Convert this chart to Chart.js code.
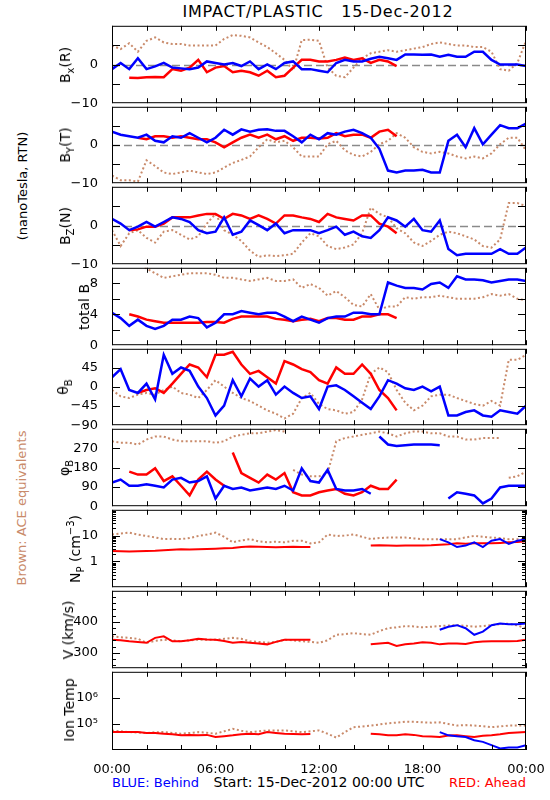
<!DOCTYPE html>
<html>
<head>
<meta charset="utf-8">
<script src="https://cdn.jsdelivr.net/npm/chart.js@4.4.0/dist/chart.umd.min.js"></script>
<style>
  body { margin: 0; background: #fff; width: 550px; height: 800px; position: relative; overflow: hidden;
         font-family: 'DejaVu Sans', sans-serif; }
  canvas { position: absolute; left: 0; }
  .txt { position: absolute; white-space: nowrap; color: #000; line-height: 1; }
  .rot { transform: translate(-50%, -50%) rotate(-90deg); }
  .sb { font-size: 10px; position: relative; top: 4px; }
  .sp { font-size: 10px; position: relative; top: -6px; }
</style>
</head>
<body>
<div class="txt" style="left:318px;top:12px;transform:translate(-50%,-50%);font-size:16px;letter-spacing:0.8px">IMPACT/PLASTIC&nbsp;&nbsp;&nbsp;15-Dec-2012</div>
<div class="txt rot" style="left:22px;top:186px;font-size:13px">(nanoTesla, RTN)</div>
<div class="txt rot" style="left:21px;top:508px;font-size:13px;color:#c98a6a">Brown: ACE equivalents</div>
<div class="txt" style="left:112px;top:782px;transform:translateY(-50%);font-size:13px;color:#0000ff">BLUE: Behind</div>
<div class="txt" style="left:319px;top:782px;transform:translate(-50%,-50%);font-size:14px">Start: 15-Dec-2012 00:00 UTC</div>
<div class="txt" style="right:24px;top:782px;transform:translateY(-50%);font-size:13px;color:#ff0000">RED: Ahead</div>
<script>
// Temps (heures depuis 00:00 UTC)
const hours = [0,0.5,1,1.5,2,2.5,3,3.5,4,4.5,5,5.5,6,6.5,7,7.5,8,8.5,9,9.5,10,10.5,11,11.5,12,
  12.5,13,13.5,14,14.5,15,15.5,16,16.5,17,17.5,18,18.5,19,19.5,20,20.5,21,21.5,22,22.5,23,23.5,24];
const xTickHours = [0,2,4,6,8,10,12,14,16,18,20,22,24];
const xLabelHours = [0,6,12,18,24];
const xLabelText = ['00:00','06:00','12:00','18:00','00:00'];

// Bx (R)
const bxBlue = [-1.2,0.4,-1.2,1.6,-1.2,-0.5,0.4,-0.8,-1,-1.2,-0.8,0.8,0.4,0,0.4,-0.4,0.8,-1.2,0,-1.2,
  0.4,0.8,-1.2,-1.2,-1.6,-2,0.4,1.2,0.8,0.8,1.5,2,1.6,1.2,2.6,2.6,2.5,2.6,2,2.5,2,2,3.3,3.3,1.2,0,0,0,-0.4];
const bxRed = [null,null,-3.4,-3.5,-3.3,-3.2,-3.3,-1.2,-1.6,-0.8,1.2,-2,-0.8,-0.4,-2,-1.6,-2,-2.9,-1.6,-3.3,
  -2.9,-0.8,1.2,1.2,0.8,0.8,1.2,1.8,1.2,1.6,0.4,1.2,0.8,-0.4,
  null,null,null,null,null,null,null,null,null,null,null,null,null,null,null];
const bxAce = [4.9,4,5.5,3.3,6.1,7,5.7,5.3,5.3,4.9,4.9,4.9,4.9,6.6,7.6,7.4,7,5.7,4.5,2.9,
  1.2,-1.6,6.3,6.4,6.1,-0.8,-2.9,-3.3,-0.8,1.6,2.9,3.3,3.7,3.3,3.7,4.1,4.5,5.3,5.7,5.3,
  4.9,4.9,4.5,4.5,3.3,-1.2,-1.6,0.4,6.1];

// By (T)
const byBlue = [3.5,2.7,2.3,1.9,2.7,1.1,0.7,2.3,1.9,3.1,1.9,0.7,1.9,4,2.7,4.1,3.5,4,4.1,3.7,
  3.7,2.3,0.7,2.7,1.5,3.1,2.7,3.5,4,3.1,1.9,-1,-6.7,-7.2,-6.7,-6.7,-6.5,-7.2,-7.2,1.1,
  2.7,-0.6,4.4,0.2,2.7,5.2,4.4,4.4,5.6];
const byRed = [null,null,null,1.9,1.5,2.3,2.3,1.9,2.3,1.9,1.5,1.5,0.7,-0.6,0.7,1.9,2.7,1.9,2.7,1.5,
  2.3,1.1,1.9,1.9,1.7,1.9,3.1,2.3,2.7,2.7,1.9,3.5,4,2.3,
  null,null,null,null,null,null,null,null,null,null,null,null,null,null,null];
const byAce = [-8,-9.2,-9.2,-9.6,-4,-5.5,-7.2,-7.6,-7.2,-6.7,-7.2,-7.6,-7.2,-5.9,-4.7,-3.9,-3,-0.6,1.5,0.7,
  1.1,-0.6,-3,-3,-3,0.2,1.1,-1.4,-2.6,-3,-1.8,0.2,1.1,3.1,1.9,-0.6,-1.8,-2.2,-1.8,-2.2,
  -3,-3.5,-3,-3.5,-2.2,0.2,1.9,1.9,-1.4];

// Bz (N)
const bzBlue = [1.7,0.5,-1.2,-0.3,0.9,-0.3,0.9,2.1,1.7,0.9,-1.2,-2,-1.6,2.1,-2.4,-1.6,1.3,0.1,-1.2,0.5,
  -2,-1.2,-1.2,-1.2,-2,-1.2,-0.3,-2.4,-1.6,-2.8,-3.2,-1.2,2.1,1.3,-0.3,1.7,-1.2,-1.6,1.3,-6.1,
  -7.7,-7.3,-7.3,-7.3,-7.3,-6.1,-7.3,-7.3,-5.7];
const bzRed = [null,null,-1.2,-1,-0.3,-0.3,0.5,2.1,2.1,2.1,2.6,3,3,1.7,3,2.6,1.7,2.6,1.7,0.5,
  2.6,2.6,2.1,1.7,0.9,3,2.1,1.7,1.3,2.6,2.6,0.5,-0.3,-2,
  null,null,null,null,null,null,null,null,null,null,null,null,null,null,null];
const bzAce = [-1.2,-5.3,-2,-1.2,-3.2,-4.4,-1.6,-1.2,-2.4,-3.6,-2.8,0.5,3,-1.2,-2.4,-4,-6.5,-8.1,-7.7,-7.9,
  -7.7,-7.3,-4.4,-2,-2.8,-5.3,-6.1,-5.7,-4.9,-2,4.6,3,2.1,-0.7,-2,-4.4,-5.3,-4,-2.4,-1.6,
  -2,-2.8,-3.6,-5.3,-5.7,-3.6,5.8,5.8,5];

// total B
const btBlue = [4.2,3.5,2.5,3.3,2.5,2.1,2.5,3.3,3.3,3.7,3.5,2.3,2.9,4,4,4.4,4.2,4,4.2,4.2,
  3.7,3.1,3.7,3.3,2.9,3.5,3.7,3.7,4.2,4.2,4,4,8.1,7.7,7.4,7.4,7.2,7.9,8.1,7.4,
  8.9,8.5,8.5,8.4,8.1,8.3,8.5,8.5,8.3];
const btRed = [null,null,4,3.7,3.3,3.1,2.9,2.9,2.9,2.9,2.9,3,3,2.9,3.4,3.7,3.7,3.7,3.7,3.4,
  3.3,3.1,3.3,3.4,3.1,3.5,3.5,3.3,3.3,3.7,3.7,4,4,3.5,
  null,null,null,null,null,null,null,null,null,null,null,null,null,null,null];
const btAce = [null,null,null,10.8,9.9,9.3,8.7,8.9,9.1,9.3,9.3,9.3,9.1,8.7,8.7,8.5,8.3,8.5,8.7,8.3,
  8.3,8.5,7.4,7.9,7.4,6.4,7,6.2,5.2,5,6.6,4.6,5,5,6.2,6,6.2,6.2,6.4,6.2,
  6,6,6,6.2,6.6,6.4,6.6,6,5.8];

// theta B
const thBlue = [23,42,-7,-14,8,-29,76,31,46,38,1,-26,-67,-44,16,-22,20,1,16,-18,
  1,-14,-26,-22,-52,1,4,-7,-22,-37,-52,-22,16,8,-3,-7,1,-10,1,-67,
  -67,-59,-55,-67,-70,-55,-59,-63,-44];
const thRed = [null,null,null,-14,-7,-3,-14,8,31,53,46,23,76,76,83,53,31,38,23,8,
  61,53,42,35,16,8,46,31,31,53,31,-7,-26,-55,
  null,null,null,null,null,null,null,null,null,null,null,null,null,null,null];
const thAce = [-7,-22,-26,-18,-14,-18,-7,1,-14,-18,-26,-7,16,1,-14,-26,-33,-44,-55,-63,
  -74,-63,-26,-14,-40,-52,-55,-63,-59,-29,31,46,35,-7,-37,-55,-44,-22,-18,-18,
  -26,-33,-40,-44,-33,-44,64,64,76];

// phi B
const phBlue = [110,124,95,95,102,95,87,124,132,110,117,139,36,95,80,87,73,80,87,80,
  95,73,176,117,110,169,80,73,73,80,58,324,287,280,284,287,287,287,284,36,
  65,58,50,13,36,87,95,95,95];
const phRed = [null,null,161,147,147,176,117,139,95,50,124,161,124,95,250,154,132,110,147,124,
  154,65,50,50,65,73,80,58,50,65,95,80,80,124,
  null,null,null,null,null,null,null,null,null,null,null,null,null,null,null];
const phAce = [302,295,295,287,310,324,324,310,302,302,302,302,295,302,324,332,339,339,347,354,
  347,169,147,139,139,154,302,317,324,332,339,347,339,324,339,347,347,339,339,324,
  324,310,310,317,317,317,132,139,161];

// Np (cm-3)
const npBlue = [null,null,null,null,null,null,null,null,null,null,null,null,null,null,null,null,null,null,null,null,
  null,null,null,null,null,null,null,null,null,null,null,null,null,null,null,null,null,null,
  7.3,5.5,3.6,4.1,5.5,3.6,6.3,7.3,4.8,6.3,7.3];
const npRed = [2.55,2.5,2.4,2.5,2.55,2.6,2.7,2.8,2.95,2.9,2.95,3,3.1,3.2,3.3,3.6,3.8,3.7,3.6,3.5,
  3.6,3.7,3.6,3.6,null,null,null,null,null,null,4.1,4.2,4.1,4,4.1,4.1,4.1,4.2,4.4,4.6,
  5,4.8,5,5,5,5.2,5.5,5.6,6];
const npAce = [11,12,13,11,9.7,8.5,7.3,7.5,7.3,8,9.7,11,13,9,5.5,6.5,7.3,6,5.5,5.8,
  5.5,6.3,6.3,5,5.5,11,9.7,10,11,9,7.3,8,8.4,8.4,8.4,7.8,7.3,7.3,7.3,7.3,
  7.3,8.5,9.7,9,8.4,8,7.3,7.3,7.3];

// V (km/s)
const vBlue = [null,null,null,null,null,null,null,null,null,null,null,null,null,null,null,null,null,null,null,null,
  null,null,null,null,null,null,null,null,null,null,null,null,null,null,null,null,null,null,
  374,384,389,379,358,368,389,394,392,392,394];
const vRed = [342,340,337,335,332,348,353,337,337,340,345,343,342,338,332,335,332,330,327,335,
  342,342,342,342,null,null,null,null,null,null,327,330,332,322,327,330,334,332,327,330,
  330,328,334,336,337,337,337,338,342];
const vAce = [353,350,348,345,332,338,342,340,337,340,342,342,342,345,348,345,337,335,332,335,
  342,340,337,335,332,340,358,360,363,360,358,370,379,382,386,385,382,384,386,388,
  389,387,384,386,389,392,394,388,379];

// Ion Temp (K)
const tempBlue = [null,null,null,null,null,null,null,null,null,null,null,null,null,null,null,null,null,null,null,null,
  null,null,null,null,null,null,null,null,null,null,null,null,null,null,null,null,null,null,
  48700,36500,33500,31600,23700,20500,15400,11500,12600,12600,15400];
const tempRed = [48700,48700,48700,48700,44700,44700,42200,40000,36500,38000,36500,38000,31600,34000,36500,40000,42200,40000,48700,45000,
  42200,41000,39800,41000,null,null,null,null,null,null,42200,40000,36500,37000,39800,38000,33500,33000,31600,36000,
  36500,34000,31600,35000,36500,40000,44700,47000,48700];
const tempAce = [56200,52000,48700,47000,44700,48000,48700,45000,42200,45000,48700,46000,42200,52000,64900,55000,48700,52000,56200,56200,
  56200,52000,48700,52000,56200,42200,29900,48700,75000,80000,86600,95000,106000,112000,122000,120000,115000,112000,115000,100000,
  86600,90000,86600,82000,75000,80000,86600,86600,86600];

const BLUE = '#0000ff', RED = '#ff0000', BROWN = '#c98a6a';
const FONT = 'DejaVu Sans';
const PAD = 12;
const panelTops = [24, 105, 185, 266, 347, 427, 508, 589, 670, 750];

const panels = [
  { title: 'B<span class="sb">x</span>(R)', tx: 65, type: 'linear', min: -10, max: 10, zero: true,
    labels: [-10, 0], text: ['−10', '0'], major: [-5, 0, 5], minor: [],
    blue: bxBlue, red: bxRed, ace: bxAce },
  { title: 'B<span class="sb">Y</span>(T)', tx: 65, type: 'linear', min: -10, max: 10, zero: true,
    labels: [-10, 0], text: ['−10', '0'], major: [-5, 0, 5], minor: [],
    blue: byBlue, red: byRed, ace: byAce },
  { title: 'B<span class="sb">Z</span>(N)', tx: 65, type: 'linear', min: -10, max: 10, zero: true,
    labels: [-10, 0], text: ['−10', '0'], major: [-5, 0, 5], minor: [],
    blue: bzBlue, red: bzRed, ace: bzAce },
  { title: 'total B', tx: 84, type: 'linear', min: 0, max: 10,
    labels: [0, 4, 8], text: ['0', '4', '8'], major: [2, 4, 6, 8], minor: [],
    blue: btBlue, red: btRed, ace: btAce },
  { title: 'θ<span class="sb">B</span>', tx: 63, type: 'linear', min: -90, max: 90,
    labels: [-90, -45, 0, 45], text: ['−90', '−45', '0', '45'], major: [-45, 0, 45], minor: [],
    blue: thBlue, red: thRed, ace: thAce },
  { title: 'φ<span class="sb">B</span>', tx: 64, type: 'linear', min: 0, max: 360, wrap: true,
    labels: [0, 90, 180, 270], text: ['0', '90', '180', '270'], major: [90, 180, 270], minor: [],
    blue: phBlue, red: phRed, ace: phAce },
  { title: 'N<span class="sb">P</span> (cm<span class="sp">−3</span>)', tx: 75, type: 'logarithmic', min: 0.1, max: 100,
    labels: [1, 10], text: ['1', '10'], major: [1, 10],
    minor: [0.2,0.3,0.4,0.5,0.6,0.7,0.8,0.9,2,3,4,5,6,7,8,9,20,30,40,50,60,70,80,90],
    blue: npBlue, red: npRed, ace: npAce, thin: true },
  { title: 'V (km/s)', tx: 68, type: 'linear', min: 250, max: 500,
    labels: [300, 400], text: ['300', '400'], major: [300, 400],
    minor: [260,280,320,340,360,380,420,440,460,480],
    blue: vBlue, red: vRed, ace: vAce, thin: true },
  { title: 'Ion Temp', tx: 69, type: 'logarithmic', min: 1e4, max: 1e7,
    labels: [1e5, 1e6], text: ['10⁵', '10⁶'], major: [1e5, 1e6], minor: [],
    blue: tempBlue, red: tempRed, ace: tempAce, thin: true }
];

// Cadre, graduations internes et ligne zéro
const framePlugin = {
  id: 'frame',
  beforeDatasetsDraw(chart, args, o) {
    if (!o.zero) return;
    const ctx = chart.ctx, a = chart.chartArea;
    const y = Math.round(chart.scales.y.getPixelForValue(0)) + 0.5;
    ctx.save();
    ctx.strokeStyle = '#8a8a8a';
    ctx.lineWidth = 1.5;
    ctx.setLineDash([8, 4]);
    ctx.beginPath();
    ctx.moveTo(a.left, y);
    ctx.lineTo(a.right, y);
    ctx.stroke();
    ctx.restore();
  },
  afterDatasetsDraw(chart, args, o) {
    const ctx = chart.ctx, a = chart.chartArea, xs = chart.scales.x, ys = chart.scales.y;
    ctx.save();
    ctx.strokeStyle = '#000';
    ctx.lineWidth = 1;
    ctx.strokeRect(a.left + 0.5, a.top + 0.5, a.right - a.left - 1, a.bottom - a.top - 1);
    ctx.beginPath();
    xTickHours.forEach(t => {
      const px = Math.round(xs.getPixelForValue(t)) + 0.5;
      ctx.moveTo(px, a.top); ctx.lineTo(px, a.top + 5);
      ctx.moveTo(px, a.bottom); ctx.lineTo(px, a.bottom - 5);
    });
    const yTick = (v, len) => {
      const py = Math.round(ys.getPixelForValue(v)) + 0.5;
      ctx.moveTo(a.left, py); ctx.lineTo(a.left + len, py);
      ctx.moveTo(a.right, py); ctx.lineTo(a.right - len, py);
    };
    o.major.forEach(v => yTick(v, 8));
    o.minor.forEach(v => yTick(v, 4));
    ctx.stroke();
    ctx.restore();
  }
};

function series(vals, color, p, ace) {
  return {
    data: hours.map((t, k) => ({ x: t, y: vals[k] })),
    showLine: true,
    pointRadius: 0,
    borderColor: color,
    borderWidth: ace ? 2 : (p.thin ? 2 : 2.5),
    borderDash: ace ? [2, 2.5] : [],
    spanGaps: false,
    clip: 0,
    segment: p.wrap ? {
      borderColor: c => Math.abs(c.p1.parsed.y - c.p0.parsed.y) > 150 ? 'rgba(0,0,0,0)' : undefined
    } : undefined
  };
}

panels.forEach((p, i) => {
  const top = panelTops[i], bottom = panelTops[i + 1];
  const last = i === panels.length - 1;

  const cv = document.createElement('canvas');
  cv.width = 550;
  cv.height = (bottom - top) + PAD + (last ? 40 : PAD);
  cv.style.top = (top - PAD) + 'px';
  document.body.appendChild(cv);

  const lab = document.createElement('div');
  lab.className = 'txt rot';
  lab.style.fontSize = '14px';
  lab.style.left = p.tx + 'px';
  lab.style.top = ((top + bottom) / 2) + 'px';
  lab.innerHTML = p.title;
  document.body.appendChild(lab);

  new Chart(cv, {
    type: 'scatter',
    data: {
      datasets: [series(p.blue, BLUE, p, false), series(p.red, RED, p, false), series(p.ace, BROWN, p, true)]
    },
    options: {
      responsive: false,
      animation: false,
      events: [],
      layout: { padding: { top: PAD, bottom: last ? 0 : PAD, left: 0, right: 24 } },
      plugins: {
        legend: { display: false },
        tooltip: { enabled: false },
        frame: { zero: !!p.zero, major: p.major, minor: p.minor }
      },
      scales: {
        x: {
          type: 'linear', min: 0, max: 24,
          display: last,
          grid: { display: false },
          border: { display: false },
          ticks: {
            color: '#000', font: { family: FONT, size: 13 }, padding: 4, maxRotation: 0, autoSkip: false,
            callback: (v, k) => xLabelText[k]
          },
          afterBuildTicks: s => { s.ticks = xLabelHours.map(v => ({ value: v })); },
          afterFit: s => { s.height = last ? 40 : 0; }
        },
        y: {
          type: p.type, min: p.min, max: p.max,
          position: 'left',
          grid: { display: false },
          border: { display: false },
          ticks: {
            color: '#000', font: { family: FONT, size: 13 }, padding: 6, autoSkip: false,
            callback: (v, k) => p.text[k]
          },
          afterBuildTicks: s => { s.ticks = p.labels.map(v => ({ value: v })); },
          afterFit: s => { s.width = 112; }
        }
      }
    },
    plugins: [framePlugin]
  });
});
</script>
</body>
</html>
